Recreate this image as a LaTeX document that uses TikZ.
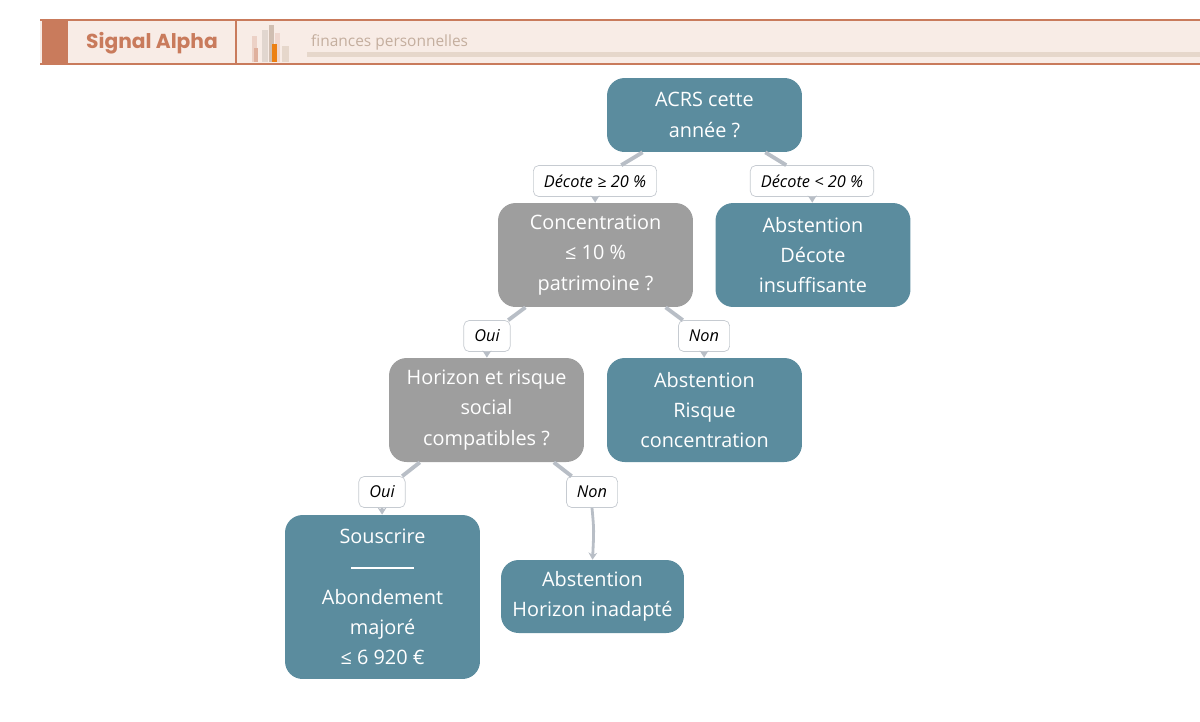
\documentclass[tikz,border=0pt]{standalone}
\usepackage{fontspec}
\setmainfont{Open Sans}
\newfontfamily\popfont{Poppins}
\usetikzlibrary{arrows.meta}
\definecolor{tealbox}{HTML}{5B8C9E}
\definecolor{greybox}{HTML}{9E9E9E}
\definecolor{edgegrey}{HTML}{B8BEC6}
\definecolor{terra}{HTML}{C97B5C}
\definecolor{bandbg}{HTML}{F8ECE6}
\definecolor{subtxt}{HTML}{C4AE9E}
\definecolor{subbar}{HTML}{E6D7CB}
\tikzset{
  box/.style={rounded corners=10pt, text=white, align=center, minimum width=3.9cm,
    font=\fontsize{11.3}{17.2}\selectfont, inner sep=2pt},
  decision/.style={box, fill=greybox},
  leaf/.style={box, fill=tealbox},
  tag/.style={draw=edgegrey!80, fill=white, rounded corners=3pt, font=\fontsize{9.3}{11}\selectfont\itshape,
    minimum height=0.62cm, inner xsep=6pt},
  link/.style={edgegrey, line width=2.2pt},
  arrow/.style={edgegrey, line width=1.6pt, -{Stealth[length=4pt,width=5pt]}}
}
\begin{document}
\begin{tikzpicture}[x=0.02cm,y=-0.02cm]
\useasboundingbox (0,0) rectangle (1200,721);

% bandeau
\fill[bandbg] (40,20) rectangle (1200,64);
\draw[terra, line width=0.8pt] (40,20) -- (1200,20) (40,64) -- (1200,64);
\fill[terra] (42,20) rectangle (68,64);
\draw[terra, line width=0.8pt] (236,20) -- (236,64);
\node[font=\popfont\bfseries\fontsize{11.5}{13}\selectfont, text=terra] (titre) at (152,43) {Signal Alpha};
\fill[terra!35] (252,36) rectangle (257,62);
\fill[terra!60] (254,48) rectangle (258,62);
\fill[subtxt!50] (262,30) rectangle (268,62);
\fill[subtxt!80] (269,25) rectangle (274,62);
\fill[terra!30] (275,33) rectangle (280,62);
\fill[orange!70!brown] (272,44) rectangle (277,62);
\fill[subbar] (282,46) rectangle (289,62);
\fill[subbar] (307,52) rectangle (1200,57);
\node[anchor=west, font=\fontsize{8.8}{10}\selectfont, text=subtxt] (sous-titre) at (305,42) {finances personnelles};

% arbre
\node[leaf, minimum height=1.48cm] (acrs) at (704.5,115) {ACRS cette\\année ?};
\node[decision, minimum height=2.08cm] (conc) at (595.5,255) {Concentration\\≤ 10 \%\\patrimoine ?};
\node[leaf, minimum height=2.08cm] (decote) at (813,255) {Abstention\\Décote\\insuffisante};
\node[decision, minimum height=2.08cm] (horiz) at (486.5,410) {Horizon et risque\\social\\compatibles ?};
\node[leaf, minimum height=2.08cm] (risque) at (704.5,410) {Abstention\\Risque\\concentration};
\node[leaf, minimum height=3.28cm] (souscr) at (382.5,597) {Souscrire\\\raisebox{3pt}{\rule{1.25cm}{1.2pt}}\\Abondement\\majoré\\≤ 6 920 €};
\node[leaf, minimum width=3.66cm, minimum height=1.46cm] (inadapte) at (592.5,596.5) {Abstention\\Horizon inadapté};

\node[tag] (t1) at (595,181) {Décote ≥ 20 \%};
\node[tag] (t2) at (812,181) {Décote < 20 \%};
\node[tag] (t3) at (487,336) {Oui};
\node[tag] (t4) at (704,336) {Non};
\node[tag] (t5) at (382,492) {Oui};
\node[tag] (t6) at (592,492) {Non};

\draw[link] (acrs) -- (t1);
\draw[link] (acrs) -- (t2);
\draw[link] (conc) -- (t3);
\draw[link] (conc) -- (t4);
\draw[link] (horiz) -- (t5);
\draw[link] (horiz) -- (t6);
\draw[arrow] (t1) -- (conc);
\draw[arrow] (t2) -- (decote);
\draw[arrow] (t3) -- (horiz);
\draw[arrow] (t4) -- (risque);
\draw[arrow] (t5) -- (souscr);
\draw[arrow] (t6.south) .. controls (594,530) .. (inadapte.north);
\end{tikzpicture}
\end{document}
